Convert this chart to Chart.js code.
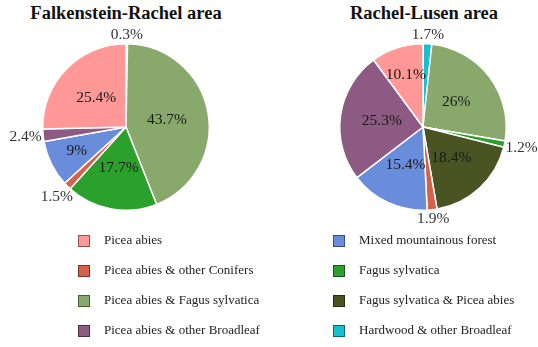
<!DOCTYPE html>
<html>
<head>
<meta charset="utf-8">
<script src="https://cdn.jsdelivr.net/npm/chart.js@4.4.1/dist/chart.umd.min.js"></script>
<style>
  body { margin: 0; background: #fff; width: 538px; height: 347px; overflow: hidden; position: relative; font-family: "Liberation Serif", serif; }
  canvas { position: absolute; }
  .title { position: absolute; top: 3px; font-weight: bold; font-size: 18.5px; text-align: center; color: #111; white-space: nowrap; transform: translateX(-50%); }
  .item { position: absolute; font-size: 13px; color: #222; white-space: nowrap; line-height: 14px; }
  .swatch { position: absolute; width: 10px; height: 10px; border: 1px solid rgba(0,0,0,0.45); }
</style>
</head>
<body>
<div class="title" style="left:126px">Falkenstein-Rachel area</div>
<div class="title" style="left:424px">Rachel-Lusen area</div>
<canvas id="leftPie" width="252" height="235" style="left:0;top:0"></canvas>
<canvas id="rightPie" width="230" height="235" style="left:308px;top:0"></canvas>
<div id="legend"></div>
<script>
// categories in legend order
const categories = [
  'Picea abies',
  'Picea abies & other Conifers',
  'Picea abies & Fagus sylvatica',
  'Picea abies & other Broadleaf',
  'Mixed mountainous forest',
  'Fagus sylvatica',
  'Fagus sylvatica & Picea abies',
  'Hardwood & other Broadleaf'
];
const colors = ['#ff9896', '#d6604a', '#88a96b', '#8c5a82', '#6a8ddb', '#2ca02c', '#4a5322', '#17bfcf'];

// share in % per area, same order as categories
const falkensteinValues = [25.4, 1.5, 43.7, 2.4, 9, 17.7, 0, 0.3];
const lusenValues = [10.1, 1.9, 26, 25.3, 15.4, 1.2, 18.4, 1.7];

// order the slices go round the pie, clockwise from the top
const sliceOrder = [7, 2, 5, 6, 1, 4, 3, 0];

const pctLabels = {
  id: 'pctLabels',
  afterDatasetsDraw(chart) {
    const ctx = chart.ctx;
    const meta = chart.getDatasetMeta(0);
    const data = chart.data.datasets[0].data;
    ctx.save();
    ctx.font = '15.5px "Liberation Serif", serif';
    ctx.textAlign = 'center';
    ctx.textBaseline = 'middle';
    meta.data.forEach((arc, i) => {
      const v = data[i];
      if (!v) return;
      const p = arc.getProps(['x', 'y', 'startAngle', 'endAngle', 'outerRadius'], true);
      const mid = (p.startAngle + p.endAngle) / 2;
      const dx = Math.cos(mid), dy = Math.sin(mid);
      const txt = v + '%';
      const w = ctx.measureText(txt).width;
      let d;
      if (v < 3) {
        // small slices get their label outside
        d = p.outerRadius * 1.1 + 0.29 * w * Math.abs(dx);
        ctx.fillStyle = '#333';
      } else {
        d = p.outerRadius * (v < 12 ? 0.66 : 0.5);
        ctx.fillStyle = '#1a1a1a';
      }
      ctx.fillText(txt, p.x + dx * d, p.y + dy * d);
    });
    ctx.restore();
  }
};

function drawPie(id, values, padLR) {
  const ctx = document.getElementById(id).getContext('2d');
  return new Chart(ctx, {
    type: 'pie',
    data: {
      labels: sliceOrder.map(i => categories[i]),
      datasets: [{
        data: sliceOrder.map(i => values[i]),
        backgroundColor: sliceOrder.map(i => colors[i]),
        borderColor: '#fff',
        borderWidth: 1.5
      }]
    },
    options: {
      responsive: false,
      animation: false,
      layout: { padding: { top: 43, bottom: 24, left: padLR, right: padLR } },
      plugins: { legend: { display: false }, tooltip: { enabled: false } }
    },
    plugins: [pctLabels]
  });
}

drawPie('leftPie', falkensteinValues, 42);
drawPie('rightPie', lusenValues, 31);

// legend: two columns of four
const legend = document.getElementById('legend');
categories.forEach((name, i) => {
  const col = Math.floor(i / 4), row = i % 4;
  const y = 241 + row * 30;
  const sw = document.createElement('div');
  sw.className = 'swatch';
  sw.style.background = colors[i];
  sw.style.left = (78 + col * 255) + 'px';
  sw.style.top = (y - 6) + 'px';
  legend.appendChild(sw);
  const t = document.createElement('div');
  t.className = 'item';
  t.textContent = name;
  t.style.left = (104 + col * 255) + 'px';
  t.style.top = (y - 8) + 'px';
  legend.appendChild(t);
});
</script>
</body>
</html>
